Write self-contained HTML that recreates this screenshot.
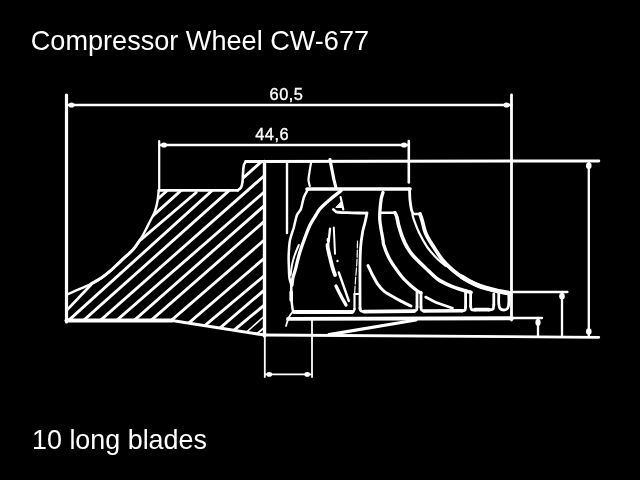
<!DOCTYPE html>
<html lang="en">
<head>
<meta charset="utf-8">
<title>Compressor Wheel CW-677</title>
<style>
html,body{margin:0;padding:0;background:#000;}
body{width:640px;height:480px;overflow:hidden;position:relative;font-family:"Liberation Sans",sans-serif;color:#fff;}
svg{position:absolute;left:0;top:0;will-change:transform;}
svg text{fill:#fff;stroke:none;font-family:"Liberation Sans",sans-serif;}
svg text.b{stroke:#fff;stroke-width:0.35px;}
svg path{fill:none;stroke:#fff;stroke-linecap:round;stroke-linejoin:round;}
</style>
</head>
<body>
<svg width="640" height="480" viewBox="0 0 640 480">
<defs><clipPath id="hubclip"><path d="M66.5,320.5 L66.5,294.6 L78.8,289.4 L91.2,283.8 L101.2,278.0 L110.0,271.2 L120.0,261.8 L130.0,252.6 L133.8,248.8 L140.0,240.0 L145.0,231.2 L150.0,221.2 L155.0,211.2 L157.5,201.0 L158.8,190.5 L237.8,190.3 L241.0,187.5 L242.5,182.0 L243.0,173.4 L243.9,165.0 L245.8,161.6 L264.5,161.5 L264.5,335.0 L170.0,320.5 Z"/></clipPath></defs>
<g clip-path="url(#hubclip)"><path d="M205.0,156.5 L-95.0,426.5" stroke-width="2.9"/><path d="M218.8,156.5 L-81.2,426.5" stroke-width="2.9"/><path d="M250.0,156.3 L-50.0,427.7" stroke-width="2.9"/><path d="M266.9,156.8 L-33.1,424.5" stroke-width="2.9"/><path d="M302.6,141.9 L2.6,406.7" stroke-width="2.9"/><path d="M304.4,157.1 L4.4,418.0" stroke-width="2.9"/><path d="M304.4,170.3 L4.4,434.8" stroke-width="2.9"/><path d="M304.4,186.3 L4.4,448.6" stroke-width="2.9"/><path d="M304.4,205.4 L4.4,464.6" stroke-width="2.9"/><path d="M304.4,223.8 L4.4,481.1" stroke-width="2.9"/><path d="M304.4,242.0 L4.4,493.8" stroke-width="2.9"/><path d="M304.4,255.8 L4.4,512.3" stroke-width="2.9"/><path d="M304.4,271.8 L4.4,520.8" stroke-width="2.9"/><path d="M304.4,279.9 L4.4,550.6" stroke-width="1.5"/><path d="M304.4,294.2 L4.4,544.2" stroke-width="1.8"/></g>
<path d="M66.5,294.6 C68.5,293.7 74.6,291.2 78.8,289.4 C82.9,287.6 87.5,285.6 91.2,283.8 C95.0,281.9 98.1,280.1 101.2,278.0 C104.4,275.9 106.9,273.9 110.0,271.2 C113.1,268.6 116.7,264.9 120.0,261.8 C123.3,258.7 127.7,254.8 130.0,252.6 C132.3,250.4 132.1,250.8 133.8,248.8 C135.4,246.7 138.1,242.9 140.0,240.0 C141.9,237.1 143.3,234.4 145.0,231.2 C146.7,228.1 148.3,224.6 150.0,221.2 C151.7,217.9 153.8,214.6 155.0,211.2 C156.2,207.9 156.9,204.5 157.5,201.0 C158.1,197.5 158.5,192.2 158.8,190.5" stroke-width="2.4" />
<path d="M91.2,283.8 C92.9,282.8 98.1,280.1 101.2,278.0 C104.4,275.9 106.9,273.9 110.0,271.2 C113.1,268.6 116.7,264.9 120.0,261.8 C123.3,258.7 127.7,254.8 130.0,252.6 C132.3,250.4 132.1,250.8 133.8,248.8 C135.4,246.7 139.0,241.5 140.0,240.0" stroke-width="3.0" />
<path d="M91.2,284.5 L66.5,310.6" stroke-width="2.8"/>
<path d="M196.2,192.5 L141.2,239.4" stroke-width="2.9"/>
<path d="M158.8,190.4 L237.8,190.4" stroke-width="2.8"/>
<path d="M237.8,190.3 C238.3,189.8 240.2,188.9 241.0,187.5 C241.8,186.1 242.2,184.3 242.5,182.0 C242.8,179.7 242.8,176.2 243.0,173.4 C243.2,170.6 243.4,167.0 243.9,165.0 C244.4,163.0 245.5,162.2 245.8,161.6" stroke-width="2.6" />
<path d="M66.5,320.5 L172.0,320.5" stroke-width="4.0"/>
<path d="M172.0,320.6 L264.5,335.0" stroke-width="3.0"/>
<path d="M66.5,95.0 L66.5,322.0" stroke-width="3.2"/>
<path d="M264.5,161.5 L264.5,336.0" stroke-width="3.4"/>
<path d="M264.8,336.0 L264.8,377.0" stroke-width="1.8"/>
<path d="M245.8,161.4 L598.8,161.0" stroke-width="3.0"/>
<path d="M264.5,335.0 L598.8,337.3" stroke-width="2.8"/>
<path d="M511.5,95.0 L511.5,320.0" stroke-width="2.8"/>
<path d="M287.0,161.5 L287.0,233.0" stroke-width="2.4"/>
<path d="M307.0,189.0 L410.0,189.0" stroke-width="3.6"/>
<path d="M288.0,318.9 L512.0,318.3" stroke-width="3.9"/>
<path d="M329.0,334.6 L416.0,320.0" stroke-width="3.2"/>
<path d="M312.0,320.0 L312.0,377.0" stroke-width="1.8"/>
<path d="M66.5,105.0 L511.5,105.0" stroke-width="2.3"/>
<ellipse cx="71.5" cy="105" rx="3" ry="2.6" fill="#fff" stroke="none"/>
<ellipse cx="506.5" cy="105" rx="3" ry="2.6" fill="#fff" stroke="none"/>
<path d="M159.2,145.0 L409.0,145.0" stroke-width="2.3"/>
<ellipse cx="164" cy="145" rx="3" ry="2.6" fill="#fff" stroke="none"/>
<ellipse cx="404" cy="145" rx="3" ry="2.6" fill="#fff" stroke="none"/>
<path d="M159.2,141.0 L159.2,189.0" stroke-width="2.2"/>
<path d="M408.8,141.0 L408.8,182.5" stroke-width="2.6"/>
<path d="M588.8,162.0 L588.8,336.0" stroke-width="2.3"/>
<ellipse cx="588.8" cy="165.8" rx="2.8" ry="3.2" fill="#fff" stroke="none"/>
<ellipse cx="588.8" cy="331.5" rx="2.8" ry="3.2" fill="#fff" stroke="none"/>
<path d="M513.5,292.0 L567.5,292.0" stroke-width="2.3"/>
<path d="M562.0,292.0 L562.0,336.0" stroke-width="2.3"/>
<ellipse cx="562" cy="296.3" rx="2.8" ry="3.2" fill="#fff" stroke="none"/>
<path d="M513.5,318.0 L542.0,318.0" stroke-width="2.3"/>
<path d="M538.0,318.0 L538.0,336.0" stroke-width="2.3"/>
<ellipse cx="538" cy="322.5" rx="2.6" ry="3.4" fill="#fff" stroke="none"/>
<path d="M265.0,374.4 L312.0,374.4" stroke-width="1.8"/>
<ellipse cx="269.3" cy="374.4" rx="2.8" ry="2.4" fill="#fff" stroke="none"/>
<ellipse cx="307.2" cy="374.4" rx="2.8" ry="2.4" fill="#fff" stroke="none"/>
<path d="M311.2,162.0 C310.9,163.7 309.9,169.0 309.5,172.0 C309.1,175.0 308.4,177.7 308.5,180.0 C308.6,182.3 309.6,185.0 309.8,186.0" stroke-width="2.2" />
<path d="M330.0,159.5 C330.3,161.2 331.3,166.6 332.0,170.0 C332.7,173.4 333.3,177.0 334.0,180.0 C334.7,183.0 335.7,186.7 336.0,188.0" stroke-width="3.2" />
<path d="M307.5,190.0 C306.9,191.2 304.8,194.4 303.8,197.5 C302.7,200.6 302.1,205.8 301.0,208.8 C299.9,211.7 298.2,211.9 297.0,215.0 C295.8,218.1 294.9,223.3 293.8,227.5 C292.6,231.7 290.8,235.8 290.0,240.0 C289.2,244.2 289.0,248.3 288.8,252.5 C288.5,256.7 288.6,260.8 288.8,265.0 C288.9,269.2 289.0,274.2 289.4,277.5 C289.8,280.8 290.9,281.9 291.2,285.0 C291.6,288.1 291.0,292.0 291.2,296.0 C291.5,300.0 292.1,306.1 292.5,308.8 C292.9,311.4 293.5,311.5 293.8,312.0" stroke-width="2.5" />
<path d="M341.0,190.8 C339.2,192.2 333.5,196.5 330.0,199.5 C326.5,202.5 322.3,206.2 320.0,208.8 C317.7,211.3 317.7,212.3 316.0,215.0 C314.3,217.7 311.8,221.2 310.0,225.0 C308.2,228.8 306.5,233.5 305.0,237.5 C303.5,241.5 302.2,245.2 301.0,248.8 C299.8,252.3 298.9,255.4 298.0,258.8 C297.1,262.1 296.4,265.6 295.6,268.8 C294.8,271.9 293.6,274.8 293.0,277.5 C292.4,280.2 292.2,283.8 292.0,285.0" stroke-width="3.3" />
<path d="M298.8,245.0 C298.0,246.8 295.5,252.7 294.4,256.0 C293.3,259.3 292.6,261.8 292.0,265.0 C291.4,268.2 290.8,273.3 290.6,275.0" stroke-width="2.0" />
<path d="M291.2,292.0 L291.2,300.0" stroke-width="3.6" />
<path d="M293.8,312.0 L352.0,312.0" stroke-width="3.8" />
<path d="M292.5,312.0 C291.9,312.9 289.8,315.2 288.8,317.5 C287.7,319.8 286.5,324.6 286.0,326.0" stroke-width="1.8" />
<path d="M340.6,197.0 L343.3,209.5" stroke-width="2.2" />
<path d="M340.8,202.5 L343,207.6 L336.2,207.4 Z" style="fill:#fff" stroke-width="1"/>
<path d="M333.4,209.4 C333.7,209.7 335.4,211.6 336.2,211.9 C337.1,212.2 340.4,212.5 342.0,212.6 C343.6,212.7 349.6,212.7 352.0,212.8 C354.4,212.9 365.1,213.2 366.5,213.2" stroke-width="2.8" />
<path d="M367.0,213.0 C366.7,214.6 365.8,219.2 365.0,222.5 C364.2,225.8 363.2,228.3 362.5,232.5 C361.8,236.7 361.0,241.9 360.6,247.5 C360.2,253.1 360.1,258.1 360.0,266.0 C359.9,273.9 360.0,287.8 360.0,295.0 C360.0,302.2 360.0,306.7 360.0,309.0" stroke-width="2.8" />
<path d="M357.5,241.0 C357.4,244.2 357.3,253.5 357.0,260.0 C356.7,266.5 355.9,274.3 355.5,280.0 C355.1,285.7 354.8,291.7 354.6,294.0" stroke-width="1.2" stroke-dasharray="7 2"/>
<path d="M354.5,294.0 L354.5,309.0" stroke-width="2.2" />
<path d="M354.5,294.0 L360.0,294.0" stroke-width="2.0" />
<path d="M354.5,309.0 C354.3,309.4 354.1,311.0 353.5,311.5 C352.9,312.0 351.4,311.9 351.0,312.0" stroke-width="2.4" />
<path d="M360.0,308.0 C360.2,308.5 360.3,310.4 361.0,311.0 C361.7,311.6 363.5,311.4 364.0,311.5" stroke-width="2.8" />
<path d="M364.0,311.6 L414.0,311.2" stroke-width="3.8" />
<path d="M414.0,311.0 C414.4,310.8 416.0,310.7 416.5,310.0 C417.0,309.3 416.9,307.5 417.0,307.0" stroke-width="2.8" />
<path d="M417.0,307.0 L417.0,292.5" stroke-width="2.8" />
<path d="M333.8,227.5 L335.0,253.8" stroke-width="2.0" />
<path d="M330.0,228.8 C329.8,230.6 329.2,236.9 328.8,240.0 C328.3,243.1 327.7,246.2 327.5,247.5" stroke-width="2.4" />
<path d="M327.5,245.0 C327.6,245.7 327.6,246.9 328.0,249.0 C328.4,251.1 329.2,254.4 330.0,257.5 C330.8,260.6 331.7,264.6 332.5,267.5 C333.3,270.4 334.6,273.8 335.0,275.0" stroke-width="3.8" />
<ellipse cx="328.3" cy="240" rx="1.8" ry="2.2" fill="#fff" stroke="none"/>
<ellipse cx="337.5" cy="261" rx="1.2" ry="1.2" fill="#fff" stroke="none"/>
<path d="M338.8,272.5 L345.0,290.0 L348.8,301.0" stroke-width="2.4" />
<path d="M336.0,286.0 C336.8,287.7 339.3,292.8 341.0,296.0 C342.7,299.2 345.2,303.5 346.0,305.0" stroke-width="3.3" />
<path d="M383.0,192.5 C382.7,193.5 381.8,195.8 381.2,198.8 C380.8,201.7 380.2,206.5 380.0,210.0 C379.8,213.5 379.5,216.7 379.8,220.0 C380.0,223.3 380.7,226.7 381.2,230.0 C381.8,233.3 382.6,237.5 383.0,240.0 C383.4,242.5 382.8,242.1 383.8,245.0 C384.7,247.9 386.9,253.8 388.8,257.5 C390.6,261.2 392.7,264.2 395.0,267.5 C397.3,270.8 399.8,274.4 402.5,277.5 C405.2,280.6 408.8,283.8 411.2,286.0 C413.8,288.2 415.9,289.8 417.5,291.0 C419.1,292.2 420.4,292.7 421.0,293.0" stroke-width="3.3" />
<path d="M380.0,212.8 L395.0,212.8" stroke-width="2.6" />
<path d="M395.0,212.8 C395.3,213.6 396.4,215.3 397.0,217.5 C397.6,219.7 397.8,222.7 398.8,226.0 C399.7,229.3 401.1,234.0 402.5,237.5 C403.9,241.0 405.3,244.1 407.0,247.0 C408.7,249.9 409.5,251.6 412.5,255.0 C415.5,258.4 420.8,263.5 425.0,267.5 C429.2,271.5 433.3,276.0 437.5,279.0 C441.7,282.0 445.8,283.8 450.0,285.6 C454.2,287.4 459.0,288.9 462.5,290.0 C466.0,291.1 469.6,292.1 471.0,292.5" stroke-width="3.6" />
<path d="M368.0,265.6 C368.8,267.2 370.9,272.0 372.5,275.0 C374.1,278.0 375.6,281.1 377.5,283.8 C379.4,286.4 381.7,289.1 383.8,291.0 C385.8,292.9 387.3,293.4 390.0,295.0 C392.7,296.6 396.5,298.8 400.0,300.6 C403.5,302.4 409.2,305.1 411.0,306.0" stroke-width="3.0" />
<path d="M409.5,189.0 C409.6,190.5 409.7,197.2 410.0,200.0 C410.3,202.8 411.1,208.2 411.5,210.0 C411.9,211.8 412.8,213.0 413.0,213.5" stroke-width="2.8" />
<path d="M413.0,214.0 L420.0,214.0" stroke-width="2.6" />
<path d="M420.0,214.0 C420.3,215.0 421.0,216.7 422.0,220.0 C423.0,223.3 424.0,229.4 426.0,234.0 C428.0,238.6 431.2,243.2 434.0,247.5 C436.8,251.8 439.4,256.2 442.5,260.0 C445.6,263.8 448.8,266.8 452.5,270.0 C456.2,273.2 461.2,276.7 465.0,279.0 C468.8,281.3 471.7,282.5 475.0,284.0 C478.3,285.5 481.2,286.8 485.0,288.0 C488.8,289.2 493.3,290.2 497.5,291.0 C501.7,291.8 507.9,292.7 510.0,293.0" stroke-width="3.8" />
<path d="M462.0,277.0 C464.2,278.2 471.2,282.4 475.0,284.2 C478.8,286.0 481.2,286.7 485.0,287.8 C488.8,288.9 493.3,290.1 497.5,291.0 C501.7,291.9 507.9,293.0 510.0,293.4" stroke-width="4.6" />
<path d="M412.5,215.0 C412.8,215.8 412.9,217.1 414.0,220.0 C415.1,222.9 416.8,227.9 419.0,232.5 C421.2,237.1 424.4,243.1 427.5,247.5 C430.6,251.9 434.4,255.9 437.5,259.0 C440.6,262.1 444.6,264.8 446.0,266.0" stroke-width="2.2" />
<path d="M421.0,292.5 L421.0,307.0" stroke-width="2.8" />
<path d="M421.0,307.0 C421.1,307.5 421.0,309.3 421.5,310.0 C422.0,310.7 423.6,310.8 424.0,311.0" stroke-width="2.8" />
<path d="M424.0,311.0 L462.0,310.8" stroke-width="3.6" />
<path d="M462.0,311.0 C462.5,310.8 464.4,310.7 465.0,310.0 C465.6,309.3 465.5,307.5 465.6,307.0" stroke-width="2.8" />
<path d="M465.6,307.0 L465.6,291.0" stroke-width="2.8" />
<path d="M425.6,297.0 C427.6,298.0 433.0,301.2 437.5,303.0 C442.0,304.8 450.0,307.2 452.5,308.0" stroke-width="2.6" />
<path d="M470.6,292.0 L470.6,306.0" stroke-width="2.8" />
<path d="M470.6,306.0 C470.8,306.6 470.8,308.8 471.5,309.5 C472.2,310.2 474.4,309.9 475.0,310.0" stroke-width="2.8" />
<path d="M475.0,309.6 L489.0,309.6" stroke-width="3.6" />
<path d="M489.0,310.0 C489.7,309.8 492.2,309.8 493.0,309.0 C493.8,308.2 493.6,305.7 493.8,305.0" stroke-width="2.8" />
<path d="M493.8,305.0 L493.8,294.0" stroke-width="2.8" />
<path d="M498.8,293.0 C498.8,294.8 498.5,301.4 498.8,304.0 C499.0,306.6 499.1,307.5 500.0,308.5 C500.9,309.5 502.8,310.0 504.0,310.0 C505.2,310.0 506.7,309.5 507.5,308.5 C508.3,307.5 508.5,306.4 508.8,304.0 C509.0,301.6 508.8,295.7 508.8,294.0" stroke-width="2.8" />
<text x="30.8" y="49.7" font-size="27.1">Compressor Wheel CW-677</text>
<text x="32" y="448.9" font-size="26.9">10 long blades</text>
<text x="269.6" y="99.7" font-size="16.4" letter-spacing="0.45" class="b">60,5</text>
<text x="255.3" y="140.3" font-size="16.4" letter-spacing="0.45" class="b">44,6</text>
</svg>

</body>
</html>
